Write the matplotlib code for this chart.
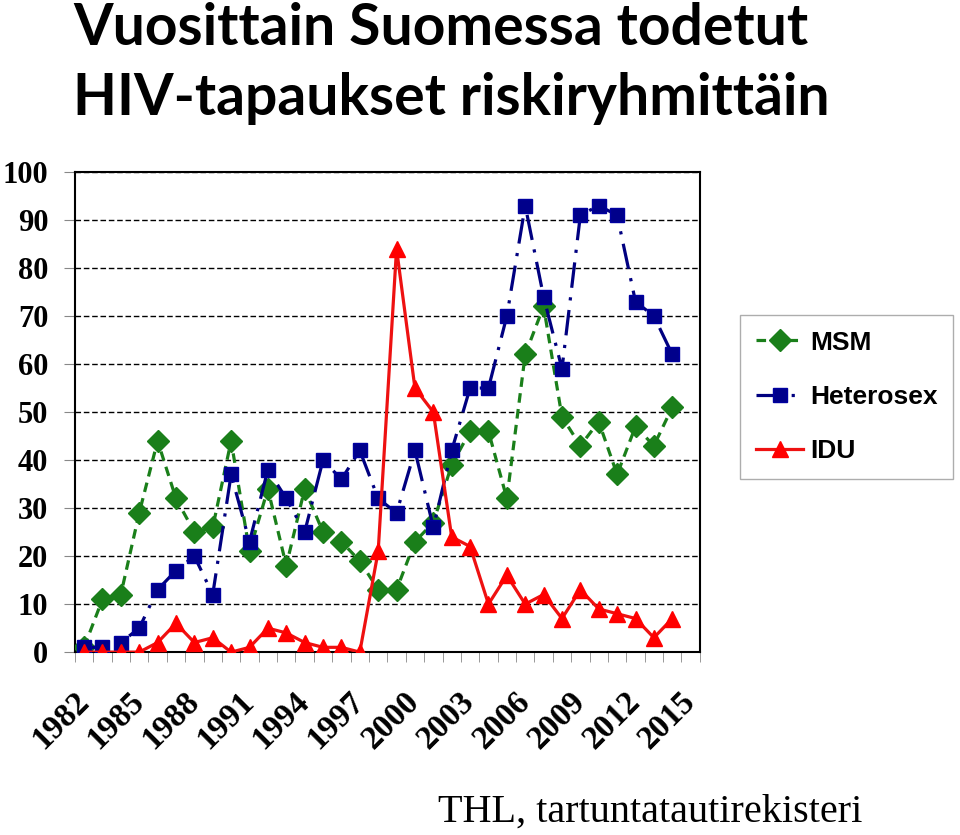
import matplotlib.pyplot as plt
import numpy as np

years = list(range(1982, 2016))
msm = [1, 11, 12, 29, 44, 32, 25, 26, 44, 21, 34, 18, 34, 25, 23, 19, 13,
       13, 23, 27, 39, 46, 46, 32, 62, 72, 49, 43, 48, 37, 47, 43, 51]
hetero = [1, 1, 2, 5, 13, 17, 20, 12, 37, 23, 38, 32, 25, 40, 36, 42, 32,
          29, 42, 26, 42, 55, 55, 70, 93, 74, 59, 91, 93, 91, 73, 70, 62]
idu = [0, 0, 0, 0, 2, 6, 2, 3, 0, 1, 5, 4, 2, 1, 1, 0, 21,
       84, 55, 50, 24, 22, 10, 16, 10, 12, 7, 13, 9, 8, 7, 3, 7]
tick_years = years[::3]

fig = plt.figure(figsize=(9.6, 8.35), dpi=100)
ax = fig.add_axes([0.078, 0.219, 0.651, 0.575])

x = np.arange(len(msm))
ax.plot(x, msm, color='#1a7f1a', linestyle=(0, (3, 2)), linewidth=2.3,
        marker='D', markersize=11, markerfacecolor='#1a7f1a', markeredgecolor='#1a7f1a', label='MSM', zorder=3)
ax.plot(x, hetero, color='#000080', linestyle=(0, (8, 3, 1, 3)), linewidth=2.3,
        marker='s', markersize=10, markerfacecolor='#00008b', markeredgecolor='#0000a0', label='Heterosex', zorder=3)
ax.plot(x, idu, color='#ee1111', linestyle='-', linewidth=2.3,
        marker='^', markersize=12, markerfacecolor='#ff0000', markeredgecolor='#ff0000', label='IDU', zorder=4)

ax.set_xlim(-0.5, len(years) - 0.5)
ax.set_ylim(0, 100)
ax.set_yticks(range(0, 101, 10))
ax.set_yticklabels([str(v) for v in range(0, 101, 10)], fontfamily='Liberation Serif',
                   fontweight='bold', fontsize=22)
ax.yaxis.grid(True, color='black', linestyle=(0, (4, 2)), linewidth=1.0)
ax.set_axisbelow(True)

ax.set_xticks(np.arange(len(years) + 1) - 0.5, minor=True)
ax.set_xticks([years.index(y) for y in tick_years])
ax.set_xticklabels([str(y) for y in tick_years], rotation=45, ha='right', va='center',
                   rotation_mode='anchor', fontfamily='Liberation Serif',
                   fontweight='bold', fontsize=24)
ax.tick_params(axis='x', which='major', length=0, pad=32)
ax.tick_params(axis='x', which='minor', length=7, direction='out', color='#888888')
ax.tick_params(axis='y', length=8, direction='out', color='#888888', pad=11)
for side in ['left', 'bottom', 'top', 'right']:
    ax.spines[side].set_linewidth(1.5)
    ax.spines[side].set_color('black')

fig.text(0.076, 0.946, 'Vuosittain Suomessa todetut', ha='left', va='baseline',
         fontfamily='Lato', fontweight='bold', fontsize=41)
fig.text(0.076, 0.862, 'HIV-tapaukset riskiryhmittäin', ha='left', va='baseline',
         fontfamily='Lato', fontweight='bold', fontsize=41)

fig.text(0.898, 0.0156, 'THL, tartuntatautirekisteri', ha='right', va='baseline',
         fontfamily='Liberation Serif', fontsize=29)

leg = fig.legend(loc='upper left', bbox_to_anchor=(0.771, 0.623),
                 prop={'family': 'Liberation Sans', 'weight': 'bold', 'size': 19},
                 frameon=True, fancybox=False, edgecolor='#999999', borderaxespad=0,
                 handlelength=1.8, labelspacing=1.15, borderpad=0.6, handletextpad=0.25)
leg.get_frame().set_linewidth(1.0)

fig.savefig('out.png', dpi=100)
